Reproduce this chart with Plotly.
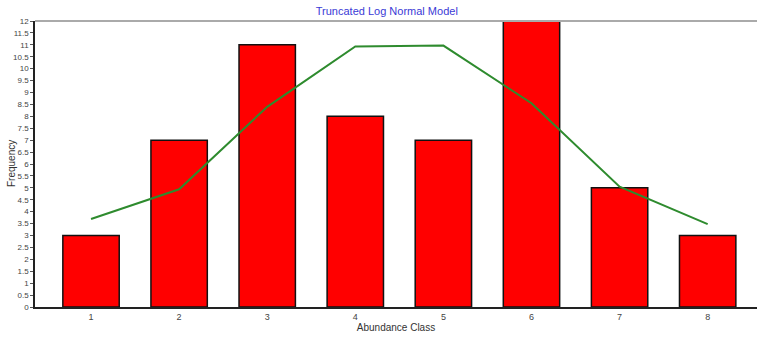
import plotly.graph_objects as go

# Abundance classes and observed frequencies
classes = [1, 2, 3, 4, 5, 6, 7, 8]
observed = [3, 7, 11, 8, 7, 12, 5, 3]
# Fitted truncated log-normal expected frequencies
expected = [3.69, 4.94, 8.4, 10.93, 10.97, 8.55, 5.05, 3.48]

y_ticks = [i * 0.5 for i in range(25)]
y_labels = [("%g" % v) for v in y_ticks]

fig = go.Figure()
fig.add_trace(go.Bar(
    x=classes, y=observed, width=0.64,
    marker=dict(color="#ff0000", line=dict(color="#111111", width=1.5)),
    showlegend=False,
))
fig.add_trace(go.Scatter(
    x=classes, y=expected, mode="lines",
    line=dict(color="#2e8b2e", width=2),
    showlegend=False,
))

fig.update_layout(
    width=757, height=337,
    margin=dict(l=35, r=0, t=21, b=30),
    paper_bgcolor="white", plot_bgcolor="white",
    font=dict(family="Liberation Sans, Arial, sans-serif", color="#444444", size=9),
    title=dict(text="Truncated Log Normal Model", x=0.511, xanchor="center",
               y=0.968, yanchor="middle",
               font=dict(color="#3a3ad6", size=11)),
    xaxis=dict(
        range=[0.364, 8.56], tickmode="array", tickvals=classes,
        ticktext=[str(c) for c in classes],
        showgrid=False, zeroline=False, showline=True,
        linecolor="#222222", linewidth=1.5,
        ticks="outside", ticklen=0, tickfont=dict(size=9, color="#444444"),
        title=dict(text="Abundance Class", standoff=2,
                   font=dict(size=10, color="#333333")),
    ),
    yaxis=dict(
        range=[0, 12], tickmode="array", tickvals=y_ticks, ticktext=y_labels,
        showgrid=False, zeroline=False, showline=True,
        linecolor="#222222", linewidth=1.5,
        ticks="outside", ticklen=3, tickcolor="#555555",
        tickfont=dict(size=8, color="#444444"),
    ),
    annotations=[dict(text="Frequency", xref="paper", yref="paper",
                      x=0, y=0.5, xshift=-24, textangle=-90,
                      showarrow=False, xanchor="center", yanchor="middle",
                      font=dict(size=10, color="#333333"))],
    shapes=[dict(type="line", xref="paper", yref="paper",
                 x0=0, x1=1, y0=1, y1=1,
                 line=dict(color="#aaaaaa", width=2))],
)

fig.write_html("out.html")
